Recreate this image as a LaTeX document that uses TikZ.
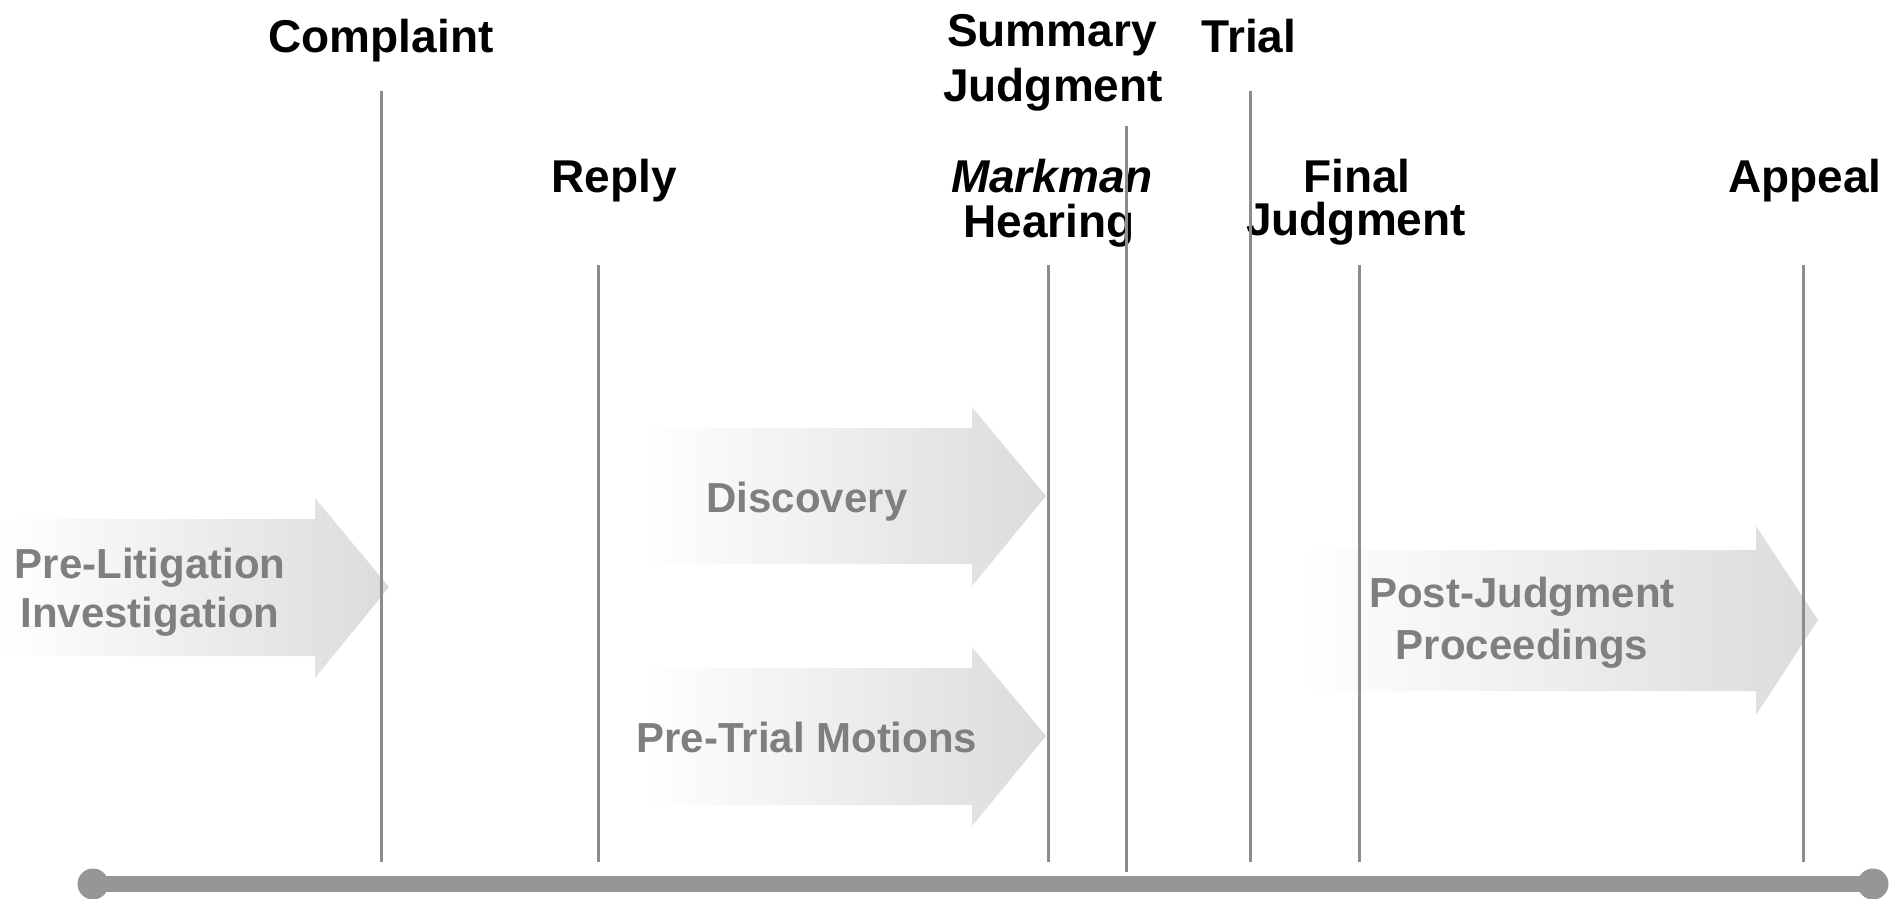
\documentclass[tikz,border=0pt]{standalone}
\usepackage{fontspec}
\setmainfont{Liberation Sans}
\definecolor{tickgray}{HTML}{8C8C8C}
\definecolor{bargray}{HTML}{969696}
\definecolor{phasetext}{HTML}{7F7F7F}
\tikzset{
  tick/.style={draw=tickgray, line width=1.5pt},
  milestone/.style={anchor=base, inner sep=0pt, text=black,
    font=\fontsize{23}{26}\selectfont\bfseries},
  phase/.style={anchor=base, inner sep=0pt, text=phasetext,
    font=\fontsize{21}{24}\selectfont\bfseries},
  phasearrow/.style={left color=white, right color=black!14},
}
\begin{document}
\begin{tikzpicture}[x=0.5pt, y=0.5pt]
\useasboundingbox (0,0) rectangle (1897,-899);

% phase arrows (shaded)
\shade[phasearrow] (0,-519) -- (315,-519) -- (315,-498) -- (389,-587)
  -- (315,-678) -- (315,-656) -- (0,-656) -- cycle;
\shade[phasearrow] (645,-428) -- (972,-428) -- (972,-407) -- (1046,-496)
  -- (972,-586) -- (972,-564) -- (645,-564) -- cycle;
\shade[phasearrow] (645,-668) -- (972,-668) -- (972,-647) -- (1046,-736)
  -- (972,-826) -- (972,-805) -- (645,-805) -- cycle;
\shade[phasearrow] (1300,-550) -- (1756,-550) -- (1756,-526) -- (1818,-620)
  -- (1756,-715) -- (1756,-691) -- (1300,-691) -- cycle;

% phase labels
\node[phase] (prelitA) at (150,-578) {Pre-Litigation};
\node[phase] (prelitB) at (150,-627) {Investigation};
\node[phase] (discovery) at (807,-512) {Discovery};
\node[phase] (pretrial) at (807,-752) {Pre-Trial Motions};
\node[phase] (postA) at (1522,-607) {Post-Judgment};
\node[phase] (postB) at (1522,-659) {Proceedings};

% milestone tick ends
\coordinate (complaintTop) at (381,-91);   \coordinate (complaintBot) at (381,-862);
\coordinate (replyTop) at (598,-265);      \coordinate (replyBot) at (598,-862);
\coordinate (markmanTop) at (1048,-265);   \coordinate (markmanBot) at (1048,-862);
\coordinate (summaryTop) at (1126,-126);   \coordinate (summaryBot) at (1126,-872);
\coordinate (trialTop) at (1250,-91);      \coordinate (trialBot) at (1250,-862);
\coordinate (finalTop) at (1359,-265);     \coordinate (finalBot) at (1359,-862);
\coordinate (appealTop) at (1803,-265);    \coordinate (appealBot) at (1803,-862);

% milestone labels
\node[milestone] (complaint) at (381,-53) {Complaint};
\node[milestone] (reply) at (614,-192) {Reply};
\node[milestone] (summaryA) at (1052,-47) {Summary};
\node[milestone] (summaryB) at (1053,-102) {Judgment};
\node[milestone] (markmanA) at (1052,-192) {\itshape Markman};
\node[milestone] (markmanB) at (1049,-237) {Hearing};
\node[milestone] (trial) at (1249,-53) {Trial};
\node[milestone] (finalA) at (1357,-192) {Final};
\node[milestone] (finalB) at (1356,-235) {Judgment};
\node[milestone] (appeal) at (1805,-192) {Appeal};

% milestone ticks
\foreach \m in {complaint, reply, markman, summary, trial, final, appeal}
  \draw[tick] (\m Top) -- (\m Bot);

% timeline bar
\coordinate (barStart) at (93,-884);
\coordinate (barEnd) at (1873,-884);
\draw[bargray, line width=8pt] (barStart) -- (barEnd);
\fill[bargray] (barStart) circle[radius=7.75pt];
\fill[bargray] (barEnd) circle[radius=7.75pt];
\end{tikzpicture}
\end{document}
